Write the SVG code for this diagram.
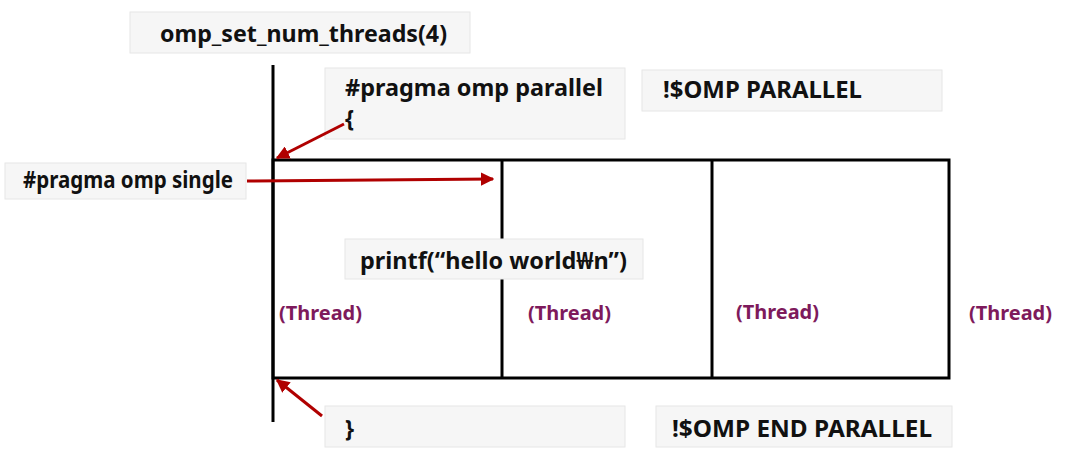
<svg xmlns="http://www.w3.org/2000/svg" width="1068" height="473" viewBox="0 0 1068 473">
<defs>
<style>
.box{fill:#f6f6f6;stroke:#e6e6e6;stroke-width:1}
.t{font-family:"Noto Sans","Open Sans",sans-serif;font-weight:bold;font-size:23px;fill:#111}
.th{font-family:"Noto Sans","Open Sans",sans-serif;font-weight:bold;font-size:20px;fill:#7e1a5c}
.ln{stroke:#000;stroke-width:3;fill:none}
.ar{stroke:#b00000;stroke-width:3;fill:none;marker-end:url(#ah)}
</style>
<marker id="ah" viewBox="0 0 10 10" refX="9" refY="5" markerWidth="4.5" markerHeight="4.5" orient="auto" markerUnits="strokeWidth">
<path d="M0,0 L10,5 L0,10 z" fill="#b00000"/>
</marker>
</defs>
<rect width="1068" height="473" fill="#fff"/>
<g id="frame">
<line class="ln" x1="273" y1="65" x2="273" y2="422"/>
<rect class="ln" x="273" y="160" width="676" height="218"/>
<line class="ln" x1="502" y1="160" x2="502" y2="378"/>
<line class="ln" x1="712" y1="160" x2="712" y2="378"/>
</g>
<g id="n_setnum"><rect class="box" x="130" y="12" width="340" height="41"/><text class="t" x="160" y="42" textLength="287" lengthAdjust="spacingAndGlyphs">omp_set_num_threads(4)</text></g>
<g id="n_pragma_parallel"><rect class="box" x="325" y="68" width="300" height="71"/><text class="t" x="345" y="96" textLength="258" lengthAdjust="spacingAndGlyphs">#pragma omp parallel</text><text class="t" x="345" y="127" font-size="21">{</text></g>
<g id="n_omp_parallel"><rect class="box" x="642" y="70" width="300" height="41"/><text class="t" x="663" y="98" textLength="199" lengthAdjust="spacingAndGlyphs">!$OMP PARALLEL</text></g>
<g id="n_single"><rect class="box" x="5" y="163" width="241" height="36"/><text class="t" x="23" y="188" font-size="21" textLength="210" lengthAdjust="spacingAndGlyphs">#pragma omp single</text></g>
<g id="n_printf"><rect class="box" x="345" y="239" width="298" height="40"/><text class="t" x="360" y="269" textLength="267" lengthAdjust="spacingAndGlyphs">printf(“hello world₩n”)</text></g>
<g id="n_close"><rect class="box" x="325" y="406" width="300" height="41"/><text class="t" x="345" y="437">}</text></g>
<g id="n_end_parallel"><rect class="box" x="656" y="406" width="296" height="41"/><text class="t" x="672" y="437" textLength="260" lengthAdjust="spacingAndGlyphs">!$OMP END PARALLEL</text></g>
<g id="threads">
<text class="th" x="279" y="320" textLength="83" lengthAdjust="spacingAndGlyphs">(Thread)</text>
<text class="th" x="528" y="320" textLength="83" lengthAdjust="spacingAndGlyphs">(Thread)</text>
<text class="th" x="736" y="319" textLength="83" lengthAdjust="spacingAndGlyphs">(Thread)</text>
<text class="th" x="969" y="320" textLength="83" lengthAdjust="spacingAndGlyphs">(Thread)</text>
</g>
<g id="connectors">
<line class="ar" x1="344" y1="124" x2="277" y2="158"/>
<line class="ar" x1="247" y1="181" x2="493" y2="179"/>
<line class="ar" x1="322" y1="416" x2="277" y2="380"/>
</g>
</svg>
